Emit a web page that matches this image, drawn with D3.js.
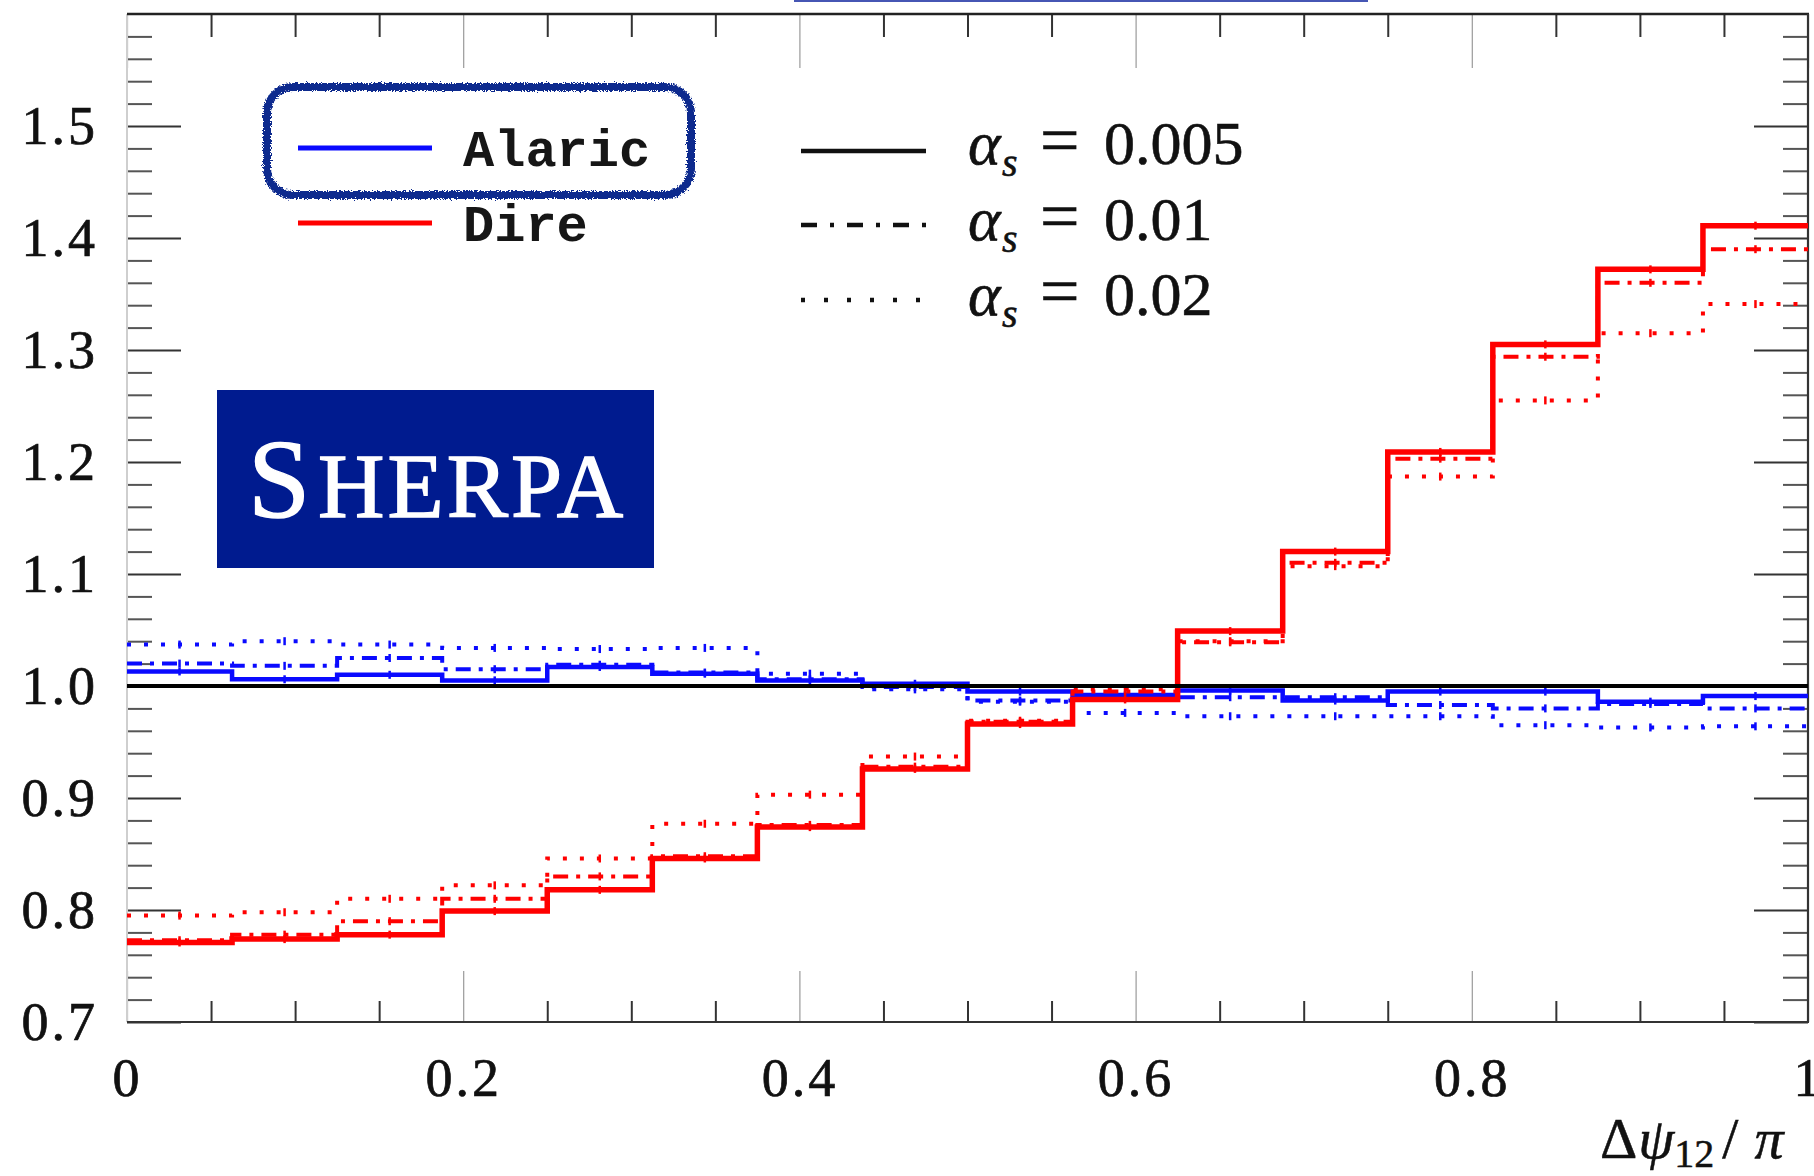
<!DOCTYPE html>
<html>
<head>
<meta charset="utf-8">
<script src="https://cdn.jsdelivr.net/npm/d3@7"></script>
<style>
  html, body { margin: 0; padding: 0; background: #ffffff; overflow: hidden; }
  svg { display: block; }
</style>
</head>
<body>
<svg id="chart" width="1814" height="1176"></svg>
<script>
// Bin edges of the Δψ12/π histogram (16 equal bins)
const binEdges = [0, 0.0625, 0.125, 0.1875, 0.25, 0.3125, 0.375, 0.4375, 0.5,
                  0.5625, 0.625, 0.6875, 0.75, 0.8125, 0.875, 0.9375, 1];

// Ratios to the reference, Alaric shower
const alaric005 = [1.013, 1.006, 1.010, 1.005, 1.017, 1.011, 1.005, 1.002,
                   0.995, 0.992, 0.996, 0.987, 0.995, 0.995, 0.986, 0.991];
const alaric01  = [1.020, 1.018, 1.025, 1.015, 1.019, 1.012, 1.006, 0.999,
                   0.987, 0.991, 0.990, 0.990, 0.983, 0.980, 0.984, 0.980];
const alaric02  = [1.037, 1.040, 1.037, 1.034, 1.033, 1.034, 1.011, 0.997,
                   0.986, 0.976, 0.973, 0.973, 0.973, 0.965, 0.963, 0.964];

// Ratios to the reference, Dire shower
const dire005 = [0.771, 0.774, 0.778, 0.799, 0.818, 0.846, 0.874, 0.926,
                 0.966, 0.988, 1.049, 1.120, 1.209, 1.305, 1.372, 1.411];
const dire01  = [0.773, 0.778, 0.790, 0.810, 0.830, 0.848, 0.876, 0.928,
                 0.968, 0.995, 1.039, 1.110, 1.203, 1.294, 1.360, 1.390];
const dire02  = [0.795, 0.798, 0.810, 0.822, 0.846, 0.877, 0.903, 0.937,
                 0.969, 0.997, 1.040, 1.107, 1.187, 1.255, 1.315, 1.341];

const generators = ["Alaric", "Dire"];
const couplings  = ["0.005", "0.01", "0.02"];

const xTickValues = [0, 0.2, 0.4, 0.6, 0.8, 1];
const xTickLabels = ["0", "0.2", "0.4", "0.6", "0.8", "1"];
const yTickValues = [0.7, 0.8, 0.9, 1.0, 1.1, 1.2, 1.3, 1.4, 1.5];
const yTickLabels = ["0.7", "0.8", "0.9", "1.0", "1.1", "1.2", "1.3", "1.4", "1.5"];

const referenceLevel = 1.0;

// ---------------------------------------------------------------------------
const svg = d3.select("#chart");
const plot = { left: 127, right: 1808, top: 14, bottom: 1022 };

const x = d3.scaleLinear().domain([0, 1]).range([plot.left, plot.right]);
const y = d3.scaleLinear().domain([0.7, 1.6]).range([plot.bottom, plot.top]);

const genColour = { Alaric: "#0a0aff", Dire: "#ff0000" };
const dashFor = { "0.005": null, "0.01": "15,8,4,8", "0.02": "4,13" };
const legendDash = { "0.005": null, "0.01": "16,13,4,13", "0.02": "4,19" };

const serif = "'Liberation Serif', 'Times New Roman', serif";
const mono = "'Liberation Mono', 'Courier New', monospace";

// rough pen filter for the hand-drawn highlight box
const defs = svg.append("defs");
const rough = defs.append("filter").attr("id", "rough")
  .attr("x", "-5%").attr("y", "-10%").attr("width", "110%").attr("height", "120%");
rough.append("feTurbulence").attr("type", "fractalNoise")
  .attr("baseFrequency", 0.7).attr("numOctaves", 2).attr("seed", 7).attr("result", "n");
rough.append("feDisplacementMap").attr("in", "SourceGraphic").attr("in2", "n")
  .attr("scale", 6).attr("xChannelSelector", "R").attr("yChannelSelector", "G");

// thin link underline at the top edge
svg.append("line")
  .attr("x1", 794).attr("x2", 1368).attr("y1", 1).attr("y2", 1)
  .attr("stroke", "#4656b4").attr("stroke-width", 2);

// ---------------------------------------------------------------------------
// Axes: minor and major ticks on all four sides
const round2 = v => Math.round(v * 100) / 100;
const xMinor = d3.range(0, 1.0001, 0.05).map(round2)
  .filter(v => !xTickValues.some(t => Math.abs(t - v) < 1e-6));
const yMinor = d3.range(0.7, 1.6001, 0.02).map(round2)
  .filter(v => !yTickValues.some(t => Math.abs(t - v) < 1e-6) && v < 1.599);

function styleTicks(g, colour, width) {
  g.selectAll(".tick line").attr("stroke", colour).attr("stroke-width", width);
  g.select(".domain").remove();
}

function styleLabels(g, spacing) {
  g.selectAll(".tick text")
    .attr("font-family", serif).attr("font-size", 54).attr("fill", "#111")
    .attr("stroke", "#111").attr("stroke-width", 0.7)
    .attr("letter-spacing", spacing);
}

// bottom
const gBotMinor = svg.append("g").attr("transform", `translate(0,${plot.bottom})`)
  .call(d3.axisBottom(x).tickValues(xMinor).tickSize(-21).tickSizeOuter(0).tickFormat(""));
styleTicks(gBotMinor, "#333", 2);
const gBot = svg.append("g").attr("transform", `translate(0,${plot.bottom})`)
  .call(d3.axisBottom(x).tickValues(xTickValues).tickSize(-51).tickSizeOuter(0)
    .tickPadding(36).tickFormat((d, i) => xTickLabels[i]));
styleTicks(gBot, "#9a9a9a", 1.2);
styleLabels(gBot, "3px");

// top
const gTopMinor = svg.append("g").attr("transform", `translate(0,${plot.top})`)
  .call(d3.axisTop(x).tickValues(xMinor).tickSize(-23).tickSizeOuter(0).tickFormat(""));
styleTicks(gTopMinor, "#333", 2);
const gTopMajor = svg.append("g").attr("transform", `translate(0,${plot.top})`)
  .call(d3.axisTop(x).tickValues(xTickValues).tickSize(-54).tickSizeOuter(0).tickFormat(""));
styleTicks(gTopMajor, "#9a9a9a", 1.2);

// left
const gLeftMinor = svg.append("g").attr("transform", `translate(${plot.left},0)`)
  .call(d3.axisLeft(y).tickValues(yMinor).tickSize(-25).tickSizeOuter(0).tickFormat(""));
styleTicks(gLeftMinor, "#555", 2);
const gLeft = svg.append("g").attr("transform", `translate(${plot.left},0)`)
  .call(d3.axisLeft(y).tickValues(yTickValues).tickSize(-54).tickSizeOuter(0)
    .tickPadding(29).tickFormat((d, i) => yTickLabels[i]));
styleTicks(gLeft, "#333", 2);
styleLabels(gLeft, "3px");

// right
const gRightMinor = svg.append("g").attr("transform", `translate(${plot.right},0)`)
  .call(d3.axisRight(y).tickValues(yMinor).tickSize(-25).tickSizeOuter(0).tickFormat(""));
styleTicks(gRightMinor, "#555", 2);
const gRight = svg.append("g").attr("transform", `translate(${plot.right},0)`)
  .call(d3.axisRight(y).tickValues(yTickValues).tickSize(-54).tickSizeOuter(0).tickFormat(""));
styleTicks(gRight, "#333", 2);

// frame
const frame = svg.append("g").attr("fill", "none");
frame.append("line").attr("x1", plot.left).attr("x2", plot.left)
  .attr("y1", plot.top).attr("y2", plot.bottom).attr("stroke", "#cfcfcf").attr("stroke-width", 2);
frame.append("line").attr("x1", plot.left).attr("x2", plot.right + 1)
  .attr("y1", plot.top).attr("y2", plot.top).attr("stroke", "#222").attr("stroke-width", 2.5);
frame.append("line").attr("x1", plot.left).attr("x2", plot.right + 1)
  .attr("y1", plot.bottom).attr("y2", plot.bottom).attr("stroke", "#333").attr("stroke-width", 2.2);
frame.append("line").attr("x1", plot.right).attr("x2", plot.right)
  .attr("y1", plot.top).attr("y2", plot.bottom).attr("stroke", "#333").attr("stroke-width", 2.2);

// ---------------------------------------------------------------------------
// Histogram step lines
const series = [
  { gen: "Alaric", coupling: "0.02",  values: alaric02 },
  { gen: "Alaric", coupling: "0.01",  values: alaric01 },
  { gen: "Alaric", coupling: "0.005", values: alaric005 },
  { gen: "Dire",   coupling: "0.02",  values: dire02 },
  { gen: "Dire",   coupling: "0.01",  values: dire01 },
  { gen: "Dire",   coupling: "0.005", values: dire005 }
];

const step = d3.line().x(d => x(d[0])).y(d => y(d[1])).curve(d3.curveStepAfter);
const toPoints = vals => vals.map((v, i) => [binEdges[i], v])
  .concat([[binEdges[binEdges.length - 1], vals[vals.length - 1]]]);

const gLines = svg.append("g").attr("fill", "none");

function drawSeries(s) {
  const g = gLines.append("g");
  const sw = s.coupling === "0.005" ? (s.gen === "Dire" ? 5.5 : 4.5) : 4;
  g.append("path")
    .attr("d", step(toPoints(s.values)))
    .attr("stroke", genColour[s.gen])
    .attr("stroke-width", sw)
    .attr("stroke-dasharray", dashFor[s.coupling])
    .attr("stroke-linejoin", "miter");
  // small centre markers of each bin
  g.selectAll("line.mark").data(s.values).join("line")
    .attr("class", "mark")
    .attr("x1", (d, i) => x((binEdges[i] + binEdges[i + 1]) / 2))
    .attr("x2", (d, i) => x((binEdges[i] + binEdges[i + 1]) / 2))
    .attr("y1", d => y(d) - 4).attr("y2", d => y(d) + 4)
    .attr("stroke", genColour[s.gen]).attr("stroke-width", 2.5);
}

series.filter(s => s.gen === "Alaric").forEach(drawSeries);

// reference line at unity
svg.append("line")
  .attr("x1", x(0)).attr("x2", x(1))
  .attr("y1", y(referenceLevel)).attr("y2", y(referenceLevel))
  .attr("stroke", "#000").attr("stroke-width", 4);

series.filter(s => s.gen === "Dire").forEach(drawSeries);

// ---------------------------------------------------------------------------
// Generator legend
const genLegend = svg.append("g");
const genRows = [{ lineY: 148, textY: 166 }, { lineY: 223, textY: 241 }];
generators.forEach((gname, i) => {
  genLegend.append("line")
    .attr("x1", 298).attr("x2", 432)
    .attr("y1", genRows[i].lineY).attr("y2", genRows[i].lineY)
    .attr("stroke", genColour[gname]).attr("stroke-width", 5);
  genLegend.append("text")
    .attr("x", 463).attr("y", genRows[i].textY)
    .attr("font-family", mono).attr("font-size", 52).attr("font-weight", "bold")
    .attr("fill", "#161616")
    .text(gname);
});

// hand-drawn highlight around the first entry
svg.append("rect")
  .attr("x", 267).attr("y", 87).attr("width", 424).attr("height", 108)
  .attr("rx", 26).attr("ry", 26)
  .attr("fill", "none").attr("stroke", "#0d2a8e").attr("stroke-width", 8)
  .attr("filter", "url(#rough)");

// Coupling legend
const cLegend = svg.append("g");
const cRows = [{ lineY: 151, textY: 164 }, { lineY: 225, textY: 240 }, { lineY: 300, textY: 315 }];
couplings.forEach((c, i) => {
  cLegend.append("line")
    .attr("x1", 801).attr("x2", 926)
    .attr("y1", cRows[i].lineY).attr("y2", cRows[i].lineY)
    .attr("stroke", "#111").attr("stroke-width", 4.5)
    .attr("stroke-dasharray", legendDash[c]);
  const t = cLegend.append("text")
    .attr("y", cRows[i].textY)
    .attr("font-family", serif).attr("font-size", 62).attr("fill", "#111")
    .attr("stroke", "#111").attr("stroke-width", 0.6);
  t.append("tspan").attr("x", 968).attr("font-style", "italic").text("α");
  t.append("tspan").attr("x", 1002).attr("dy", 12).attr("font-size", 40)
    .attr("font-style", "italic").text("s");
  t.append("tspan").attr("x", 1040).attr("dy", -12).attr("font-size", 70).text("=");
  t.append("tspan").attr("x", 1104).text(c);
});

// ---------------------------------------------------------------------------
// SHERPA logo
const logo = svg.append("g");
logo.append("rect")
  .attr("x", 217).attr("y", 390).attr("width", 437).attr("height", 178)
  .attr("fill", "#001b8f");
const logoText = logo.append("text")
  .attr("y", 517).attr("font-family", serif).attr("fill", "#ffffff")
  .attr("stroke", "#ffffff").attr("stroke-width", 1.4);
logoText.append("tspan").attr("x", 248).attr("font-size", 112).text("S");
logoText.append("tspan").attr("x", 318).attr("font-size", 92)
  .attr("letter-spacing", "3px").text("HERPA");

// x-axis title Δψ12/π
const xTitle = svg.append("text")
  .attr("x", 1600).attr("y", 1158)
  .attr("font-family", serif).attr("font-size", 58).attr("fill", "#111")
  .attr("stroke", "#111").attr("stroke-width", 0.5);
xTitle.append("tspan").text("Δ");
xTitle.append("tspan").attr("font-style", "italic").attr("dx", 1).text("ψ");
xTitle.append("tspan").attr("font-size", 40).attr("dy", 9).text("12");
xTitle.append("tspan").attr("dy", -9).attr("dx", 8).text("/");
xTitle.append("tspan").attr("dx", 16).attr("font-style", "italic").text("π");
</script>
</body>
</html>
